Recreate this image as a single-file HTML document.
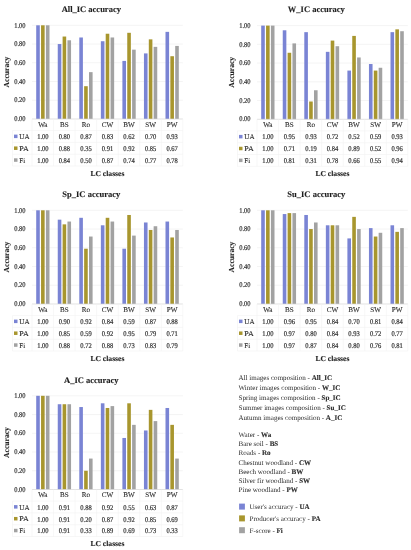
<!DOCTYPE html>
<html><head><meta charset="utf-8"><style>
html,body{margin:0;padding:0;background:#fff;}
body{width:411px;height:550px;overflow:hidden;}
svg{display:block;filter:blur(0.3px);}
text{font-family:"Liberation Serif",serif;fill:#404040;text-rendering:geometricPrecision;}
.n{font-size:7.3px;fill:#2a2a2a;stroke:#2a2a2a;stroke-width:0.18px;}
.c{font-size:7.1px;fill:#2a2a2a;stroke:#2a2a2a;stroke-width:0.1px;}
.b{font-size:7.6px;font-weight:bold;fill:#222;stroke:#222;stroke-width:0.12px;}
.t{font-size:8.5px;font-weight:bold;fill:#1e1e1e;stroke:#1e1e1e;stroke-width:0.12px;}
.l{font-size:7.05px;fill:#2e2e2e;}
.l tspan{stroke:#222;stroke-width:0.12px;}
</style></head><body>
<svg width="411" height="550" viewBox="0 0 411 550">
<rect width="411" height="550" fill="#fff"/>
<g transform="translate(0,0)">
<line x1="32.0" y1="100.26" x2="182.85" y2="100.26" stroke="#ededed" stroke-width="0.6"/>
<line x1="32.0" y1="81.52" x2="182.85" y2="81.52" stroke="#ededed" stroke-width="0.6"/>
<line x1="32.0" y1="62.78" x2="182.85" y2="62.78" stroke="#ededed" stroke-width="0.6"/>
<line x1="32.0" y1="44.04" x2="182.85" y2="44.04" stroke="#ededed" stroke-width="0.6"/>
<line x1="32.0" y1="25.30" x2="182.85" y2="25.30" stroke="#ededed" stroke-width="0.6"/>
<text x="14.2" y="121.20" textLength="11.3" lengthAdjust="spacingAndGlyphs" class="n">0.00</text>
<text x="14.2" y="102.46" textLength="11.3" lengthAdjust="spacingAndGlyphs" class="n">0.20</text>
<text x="14.2" y="83.72" textLength="11.3" lengthAdjust="spacingAndGlyphs" class="n">0.40</text>
<text x="14.2" y="64.98" textLength="11.3" lengthAdjust="spacingAndGlyphs" class="n">0.60</text>
<text x="14.2" y="46.24" textLength="11.3" lengthAdjust="spacingAndGlyphs" class="n">0.80</text>
<text x="14.2" y="27.50" textLength="11.3" lengthAdjust="spacingAndGlyphs" class="n">1.00</text>
<rect x="36.20" y="25.30" width="3.6" height="93.70" fill="#7a84d4"/>
<rect x="41.05" y="25.30" width="3.6" height="93.70" fill="#a8962e"/>
<rect x="45.90" y="25.30" width="3.6" height="93.70" fill="#a2a2a2"/>
<rect x="57.75" y="44.04" width="3.6" height="74.96" fill="#7a84d4"/>
<rect x="62.60" y="36.54" width="3.6" height="82.46" fill="#a8962e"/>
<rect x="67.45" y="40.29" width="3.6" height="78.71" fill="#a2a2a2"/>
<rect x="79.30" y="37.48" width="3.6" height="81.52" fill="#7a84d4"/>
<rect x="84.15" y="86.20" width="3.6" height="32.80" fill="#a8962e"/>
<rect x="89.00" y="72.15" width="3.6" height="46.85" fill="#a2a2a2"/>
<rect x="100.85" y="41.23" width="3.6" height="77.77" fill="#7a84d4"/>
<rect x="105.70" y="33.73" width="3.6" height="85.27" fill="#a8962e"/>
<rect x="110.55" y="37.48" width="3.6" height="81.52" fill="#a2a2a2"/>
<rect x="122.40" y="60.91" width="3.6" height="58.09" fill="#7a84d4"/>
<rect x="127.25" y="32.80" width="3.6" height="86.20" fill="#a8962e"/>
<rect x="132.10" y="49.66" width="3.6" height="69.34" fill="#a2a2a2"/>
<rect x="143.95" y="53.41" width="3.6" height="65.59" fill="#7a84d4"/>
<rect x="148.80" y="39.36" width="3.6" height="79.64" fill="#a8962e"/>
<rect x="153.65" y="46.85" width="3.6" height="72.15" fill="#a2a2a2"/>
<rect x="165.50" y="31.86" width="3.6" height="87.14" fill="#7a84d4"/>
<rect x="170.35" y="56.22" width="3.6" height="62.78" fill="#a8962e"/>
<rect x="175.20" y="45.91" width="3.6" height="73.09" fill="#a2a2a2"/>
<line x1="32.0" y1="119.0" x2="182.85" y2="119.0" stroke="#d6d6d6" stroke-width="0.7"/>
<line x1="32.00" y1="119.0" x2="32.00" y2="166" stroke="#f1f1f1" stroke-width="0.6"/>
<line x1="53.55" y1="119.0" x2="53.55" y2="166" stroke="#f1f1f1" stroke-width="0.6"/>
<line x1="75.10" y1="119.0" x2="75.10" y2="166" stroke="#f1f1f1" stroke-width="0.6"/>
<line x1="96.65" y1="119.0" x2="96.65" y2="166" stroke="#f1f1f1" stroke-width="0.6"/>
<line x1="118.20" y1="119.0" x2="118.20" y2="166" stroke="#f1f1f1" stroke-width="0.6"/>
<line x1="139.75" y1="119.0" x2="139.75" y2="166" stroke="#f1f1f1" stroke-width="0.6"/>
<line x1="161.30" y1="119.0" x2="161.30" y2="166" stroke="#f1f1f1" stroke-width="0.6"/>
<line x1="182.85" y1="119.0" x2="182.85" y2="166" stroke="#f1f1f1" stroke-width="0.6"/>
<line x1="12.5" y1="130.6" x2="182.85" y2="130.6" stroke="#f1f1f1" stroke-width="0.6"/>
<line x1="12.5" y1="142.4" x2="182.85" y2="142.4" stroke="#f1f1f1" stroke-width="0.6"/>
<line x1="12.5" y1="154.2" x2="182.85" y2="154.2" stroke="#f1f1f1" stroke-width="0.6"/>
<line x1="12.5" y1="166" x2="182.85" y2="166" stroke="#f1f1f1" stroke-width="0.6"/>
<line x1="12.5" y1="130.6" x2="12.5" y2="166" stroke="#f1f1f1" stroke-width="0.6"/>
<text x="42.85" y="126.8" text-anchor="middle" class="c">Wa</text>
<text x="64.40" y="126.8" text-anchor="middle" class="c">BS</text>
<text x="85.95" y="126.8" text-anchor="middle" class="c">Ro</text>
<text x="107.50" y="126.8" text-anchor="middle" class="c">CW</text>
<text x="129.05" y="126.8" text-anchor="middle" class="c">BW</text>
<text x="150.60" y="126.8" text-anchor="middle" class="c">SW</text>
<text x="172.15" y="126.8" text-anchor="middle" class="c">PW</text>
<rect x="14" y="134.60" width="3.5" height="3.5" fill="#7a84d4"/>
<text x="19.3" y="139.00" textLength="10.3" lengthAdjust="spacingAndGlyphs" class="c">UA</text>
<text x="37.15" y="139.20" textLength="11.4" lengthAdjust="spacingAndGlyphs" class="n">1.00</text>
<text x="58.70" y="139.20" textLength="11.4" lengthAdjust="spacingAndGlyphs" class="n">0.80</text>
<text x="80.25" y="139.20" textLength="11.4" lengthAdjust="spacingAndGlyphs" class="n">0.87</text>
<text x="101.80" y="139.20" textLength="11.4" lengthAdjust="spacingAndGlyphs" class="n">0.83</text>
<text x="123.35" y="139.20" textLength="11.4" lengthAdjust="spacingAndGlyphs" class="n">0.62</text>
<text x="144.90" y="139.20" textLength="11.4" lengthAdjust="spacingAndGlyphs" class="n">0.70</text>
<text x="166.45" y="139.20" textLength="11.4" lengthAdjust="spacingAndGlyphs" class="n">0.93</text>
<rect x="14" y="146.45" width="3.5" height="3.5" fill="#a8962e"/>
<text x="19.3" y="150.85" textLength="9.6" lengthAdjust="spacingAndGlyphs" class="c">PA</text>
<text x="37.15" y="151.05" textLength="11.4" lengthAdjust="spacingAndGlyphs" class="n">1.00</text>
<text x="58.70" y="151.05" textLength="11.4" lengthAdjust="spacingAndGlyphs" class="n">0.88</text>
<text x="80.25" y="151.05" textLength="11.4" lengthAdjust="spacingAndGlyphs" class="n">0.35</text>
<text x="101.80" y="151.05" textLength="11.4" lengthAdjust="spacingAndGlyphs" class="n">0.91</text>
<text x="123.35" y="151.05" textLength="11.4" lengthAdjust="spacingAndGlyphs" class="n">0.92</text>
<text x="144.90" y="151.05" textLength="11.4" lengthAdjust="spacingAndGlyphs" class="n">0.85</text>
<text x="166.45" y="151.05" textLength="11.4" lengthAdjust="spacingAndGlyphs" class="n">0.67</text>
<rect x="14" y="158.30" width="3.5" height="3.5" fill="#a2a2a2"/>
<text x="19.3" y="162.70" textLength="5.8" lengthAdjust="spacingAndGlyphs" class="c">Fi</text>
<text x="37.15" y="162.90" textLength="11.4" lengthAdjust="spacingAndGlyphs" class="n">1.00</text>
<text x="58.70" y="162.90" textLength="11.4" lengthAdjust="spacingAndGlyphs" class="n">0.84</text>
<text x="80.25" y="162.90" textLength="11.4" lengthAdjust="spacingAndGlyphs" class="n">0.50</text>
<text x="101.80" y="162.90" textLength="11.4" lengthAdjust="spacingAndGlyphs" class="n">0.87</text>
<text x="123.35" y="162.90" textLength="11.4" lengthAdjust="spacingAndGlyphs" class="n">0.74</text>
<text x="144.90" y="162.90" textLength="11.4" lengthAdjust="spacingAndGlyphs" class="n">0.77</text>
<text x="166.45" y="162.90" textLength="11.4" lengthAdjust="spacingAndGlyphs" class="n">0.78</text>
<text x="107.42" y="175.5" text-anchor="middle" class="b">LC classes</text>
<text transform="translate(9.4,72) rotate(-90)" x="0" y="0" text-anchor="middle" class="b">Accuracy</text>
<text x="91.3" y="12.2" text-anchor="middle" class="t">All_IC accuracy</text>
</g>
<g transform="translate(225.0,0.3)">
<line x1="32.0" y1="100.26" x2="182.85" y2="100.26" stroke="#ededed" stroke-width="0.6"/>
<line x1="32.0" y1="81.52" x2="182.85" y2="81.52" stroke="#ededed" stroke-width="0.6"/>
<line x1="32.0" y1="62.78" x2="182.85" y2="62.78" stroke="#ededed" stroke-width="0.6"/>
<line x1="32.0" y1="44.04" x2="182.85" y2="44.04" stroke="#ededed" stroke-width="0.6"/>
<line x1="32.0" y1="25.30" x2="182.85" y2="25.30" stroke="#ededed" stroke-width="0.6"/>
<text x="14.2" y="121.20" textLength="11.3" lengthAdjust="spacingAndGlyphs" class="n">0.00</text>
<text x="14.2" y="102.46" textLength="11.3" lengthAdjust="spacingAndGlyphs" class="n">0.20</text>
<text x="14.2" y="83.72" textLength="11.3" lengthAdjust="spacingAndGlyphs" class="n">0.40</text>
<text x="14.2" y="64.98" textLength="11.3" lengthAdjust="spacingAndGlyphs" class="n">0.60</text>
<text x="14.2" y="46.24" textLength="11.3" lengthAdjust="spacingAndGlyphs" class="n">0.80</text>
<text x="14.2" y="27.50" textLength="11.3" lengthAdjust="spacingAndGlyphs" class="n">1.00</text>
<rect x="36.20" y="25.30" width="3.6" height="93.70" fill="#7a84d4"/>
<rect x="41.05" y="25.30" width="3.6" height="93.70" fill="#a8962e"/>
<rect x="45.90" y="25.30" width="3.6" height="93.70" fill="#a2a2a2"/>
<rect x="57.75" y="29.98" width="3.6" height="89.02" fill="#7a84d4"/>
<rect x="62.60" y="52.47" width="3.6" height="66.53" fill="#a8962e"/>
<rect x="67.45" y="43.10" width="3.6" height="75.90" fill="#a2a2a2"/>
<rect x="79.30" y="31.86" width="3.6" height="87.14" fill="#7a84d4"/>
<rect x="84.15" y="101.20" width="3.6" height="17.80" fill="#a8962e"/>
<rect x="89.00" y="89.95" width="3.6" height="29.05" fill="#a2a2a2"/>
<rect x="100.85" y="51.54" width="3.6" height="67.46" fill="#7a84d4"/>
<rect x="105.70" y="40.29" width="3.6" height="78.71" fill="#a8962e"/>
<rect x="110.55" y="45.91" width="3.6" height="73.09" fill="#a2a2a2"/>
<rect x="122.40" y="70.28" width="3.6" height="48.72" fill="#7a84d4"/>
<rect x="127.25" y="35.61" width="3.6" height="83.39" fill="#a8962e"/>
<rect x="132.10" y="57.16" width="3.6" height="61.84" fill="#a2a2a2"/>
<rect x="143.95" y="63.72" width="3.6" height="55.28" fill="#7a84d4"/>
<rect x="148.80" y="70.28" width="3.6" height="48.72" fill="#a8962e"/>
<rect x="153.65" y="67.47" width="3.6" height="51.54" fill="#a2a2a2"/>
<rect x="165.50" y="31.86" width="3.6" height="87.14" fill="#7a84d4"/>
<rect x="170.35" y="29.05" width="3.6" height="89.95" fill="#a8962e"/>
<rect x="175.20" y="30.92" width="3.6" height="88.08" fill="#a2a2a2"/>
<line x1="32.0" y1="119.0" x2="182.85" y2="119.0" stroke="#d6d6d6" stroke-width="0.7"/>
<line x1="32.00" y1="119.0" x2="32.00" y2="166" stroke="#f1f1f1" stroke-width="0.6"/>
<line x1="53.55" y1="119.0" x2="53.55" y2="166" stroke="#f1f1f1" stroke-width="0.6"/>
<line x1="75.10" y1="119.0" x2="75.10" y2="166" stroke="#f1f1f1" stroke-width="0.6"/>
<line x1="96.65" y1="119.0" x2="96.65" y2="166" stroke="#f1f1f1" stroke-width="0.6"/>
<line x1="118.20" y1="119.0" x2="118.20" y2="166" stroke="#f1f1f1" stroke-width="0.6"/>
<line x1="139.75" y1="119.0" x2="139.75" y2="166" stroke="#f1f1f1" stroke-width="0.6"/>
<line x1="161.30" y1="119.0" x2="161.30" y2="166" stroke="#f1f1f1" stroke-width="0.6"/>
<line x1="182.85" y1="119.0" x2="182.85" y2="166" stroke="#f1f1f1" stroke-width="0.6"/>
<line x1="12.5" y1="130.6" x2="182.85" y2="130.6" stroke="#f1f1f1" stroke-width="0.6"/>
<line x1="12.5" y1="142.4" x2="182.85" y2="142.4" stroke="#f1f1f1" stroke-width="0.6"/>
<line x1="12.5" y1="154.2" x2="182.85" y2="154.2" stroke="#f1f1f1" stroke-width="0.6"/>
<line x1="12.5" y1="166" x2="182.85" y2="166" stroke="#f1f1f1" stroke-width="0.6"/>
<line x1="12.5" y1="130.6" x2="12.5" y2="166" stroke="#f1f1f1" stroke-width="0.6"/>
<text x="42.85" y="126.8" text-anchor="middle" class="c">Wa</text>
<text x="64.40" y="126.8" text-anchor="middle" class="c">BS</text>
<text x="85.95" y="126.8" text-anchor="middle" class="c">Ro</text>
<text x="107.50" y="126.8" text-anchor="middle" class="c">CW</text>
<text x="129.05" y="126.8" text-anchor="middle" class="c">BW</text>
<text x="150.60" y="126.8" text-anchor="middle" class="c">SW</text>
<text x="172.15" y="126.8" text-anchor="middle" class="c">PW</text>
<rect x="14" y="134.60" width="3.5" height="3.5" fill="#7a84d4"/>
<text x="19.3" y="139.00" textLength="10.3" lengthAdjust="spacingAndGlyphs" class="c">UA</text>
<text x="37.15" y="139.20" textLength="11.4" lengthAdjust="spacingAndGlyphs" class="n">1.00</text>
<text x="58.70" y="139.20" textLength="11.4" lengthAdjust="spacingAndGlyphs" class="n">0.95</text>
<text x="80.25" y="139.20" textLength="11.4" lengthAdjust="spacingAndGlyphs" class="n">0.93</text>
<text x="101.80" y="139.20" textLength="11.4" lengthAdjust="spacingAndGlyphs" class="n">0.72</text>
<text x="123.35" y="139.20" textLength="11.4" lengthAdjust="spacingAndGlyphs" class="n">0.52</text>
<text x="144.90" y="139.20" textLength="11.4" lengthAdjust="spacingAndGlyphs" class="n">0.59</text>
<text x="166.45" y="139.20" textLength="11.4" lengthAdjust="spacingAndGlyphs" class="n">0.93</text>
<rect x="14" y="146.45" width="3.5" height="3.5" fill="#a8962e"/>
<text x="19.3" y="150.85" textLength="9.6" lengthAdjust="spacingAndGlyphs" class="c">PA</text>
<text x="37.15" y="151.05" textLength="11.4" lengthAdjust="spacingAndGlyphs" class="n">1.00</text>
<text x="58.70" y="151.05" textLength="11.4" lengthAdjust="spacingAndGlyphs" class="n">0.71</text>
<text x="80.25" y="151.05" textLength="11.4" lengthAdjust="spacingAndGlyphs" class="n">0.19</text>
<text x="101.80" y="151.05" textLength="11.4" lengthAdjust="spacingAndGlyphs" class="n">0.84</text>
<text x="123.35" y="151.05" textLength="11.4" lengthAdjust="spacingAndGlyphs" class="n">0.89</text>
<text x="144.90" y="151.05" textLength="11.4" lengthAdjust="spacingAndGlyphs" class="n">0.52</text>
<text x="166.45" y="151.05" textLength="11.4" lengthAdjust="spacingAndGlyphs" class="n">0.96</text>
<rect x="14" y="158.30" width="3.5" height="3.5" fill="#a2a2a2"/>
<text x="19.3" y="162.70" textLength="5.8" lengthAdjust="spacingAndGlyphs" class="c">Fi</text>
<text x="37.15" y="162.90" textLength="11.4" lengthAdjust="spacingAndGlyphs" class="n">1.00</text>
<text x="58.70" y="162.90" textLength="11.4" lengthAdjust="spacingAndGlyphs" class="n">0.81</text>
<text x="80.25" y="162.90" textLength="11.4" lengthAdjust="spacingAndGlyphs" class="n">0.31</text>
<text x="101.80" y="162.90" textLength="11.4" lengthAdjust="spacingAndGlyphs" class="n">0.78</text>
<text x="123.35" y="162.90" textLength="11.4" lengthAdjust="spacingAndGlyphs" class="n">0.66</text>
<text x="144.90" y="162.90" textLength="11.4" lengthAdjust="spacingAndGlyphs" class="n">0.55</text>
<text x="166.45" y="162.90" textLength="11.4" lengthAdjust="spacingAndGlyphs" class="n">0.94</text>
<text x="107.42" y="175.5" text-anchor="middle" class="b">LC classes</text>
<text transform="translate(9.4,72) rotate(-90)" x="0" y="0" text-anchor="middle" class="b">Accuracy</text>
<text x="91.3" y="12.2" text-anchor="middle" class="t">W_IC accuracy</text>
</g>
<g transform="translate(0,185.0)">
<line x1="32.0" y1="100.26" x2="182.85" y2="100.26" stroke="#ededed" stroke-width="0.6"/>
<line x1="32.0" y1="81.52" x2="182.85" y2="81.52" stroke="#ededed" stroke-width="0.6"/>
<line x1="32.0" y1="62.78" x2="182.85" y2="62.78" stroke="#ededed" stroke-width="0.6"/>
<line x1="32.0" y1="44.04" x2="182.85" y2="44.04" stroke="#ededed" stroke-width="0.6"/>
<line x1="32.0" y1="25.30" x2="182.85" y2="25.30" stroke="#ededed" stroke-width="0.6"/>
<text x="14.2" y="121.20" textLength="11.3" lengthAdjust="spacingAndGlyphs" class="n">0.00</text>
<text x="14.2" y="102.46" textLength="11.3" lengthAdjust="spacingAndGlyphs" class="n">0.20</text>
<text x="14.2" y="83.72" textLength="11.3" lengthAdjust="spacingAndGlyphs" class="n">0.40</text>
<text x="14.2" y="64.98" textLength="11.3" lengthAdjust="spacingAndGlyphs" class="n">0.60</text>
<text x="14.2" y="46.24" textLength="11.3" lengthAdjust="spacingAndGlyphs" class="n">0.80</text>
<text x="14.2" y="27.50" textLength="11.3" lengthAdjust="spacingAndGlyphs" class="n">1.00</text>
<rect x="36.20" y="25.30" width="3.6" height="93.70" fill="#7a84d4"/>
<rect x="41.05" y="25.30" width="3.6" height="93.70" fill="#a8962e"/>
<rect x="45.90" y="25.30" width="3.6" height="93.70" fill="#a2a2a2"/>
<rect x="57.75" y="34.67" width="3.6" height="84.33" fill="#7a84d4"/>
<rect x="62.60" y="39.36" width="3.6" height="79.64" fill="#a8962e"/>
<rect x="67.45" y="36.54" width="3.6" height="82.46" fill="#a2a2a2"/>
<rect x="79.30" y="32.80" width="3.6" height="86.20" fill="#7a84d4"/>
<rect x="84.15" y="63.72" width="3.6" height="55.28" fill="#a8962e"/>
<rect x="89.00" y="51.54" width="3.6" height="67.46" fill="#a2a2a2"/>
<rect x="100.85" y="40.29" width="3.6" height="78.71" fill="#7a84d4"/>
<rect x="105.70" y="32.80" width="3.6" height="86.20" fill="#a8962e"/>
<rect x="110.55" y="36.54" width="3.6" height="82.46" fill="#a2a2a2"/>
<rect x="122.40" y="63.72" width="3.6" height="55.28" fill="#7a84d4"/>
<rect x="127.25" y="29.98" width="3.6" height="89.02" fill="#a8962e"/>
<rect x="132.10" y="50.60" width="3.6" height="68.40" fill="#a2a2a2"/>
<rect x="143.95" y="37.48" width="3.6" height="81.52" fill="#7a84d4"/>
<rect x="148.80" y="44.98" width="3.6" height="74.02" fill="#a8962e"/>
<rect x="153.65" y="41.23" width="3.6" height="77.77" fill="#a2a2a2"/>
<rect x="165.50" y="36.54" width="3.6" height="82.46" fill="#7a84d4"/>
<rect x="170.35" y="52.47" width="3.6" height="66.53" fill="#a8962e"/>
<rect x="175.20" y="44.98" width="3.6" height="74.02" fill="#a2a2a2"/>
<line x1="32.0" y1="119.0" x2="182.85" y2="119.0" stroke="#d6d6d6" stroke-width="0.7"/>
<line x1="32.00" y1="119.0" x2="32.00" y2="166" stroke="#f1f1f1" stroke-width="0.6"/>
<line x1="53.55" y1="119.0" x2="53.55" y2="166" stroke="#f1f1f1" stroke-width="0.6"/>
<line x1="75.10" y1="119.0" x2="75.10" y2="166" stroke="#f1f1f1" stroke-width="0.6"/>
<line x1="96.65" y1="119.0" x2="96.65" y2="166" stroke="#f1f1f1" stroke-width="0.6"/>
<line x1="118.20" y1="119.0" x2="118.20" y2="166" stroke="#f1f1f1" stroke-width="0.6"/>
<line x1="139.75" y1="119.0" x2="139.75" y2="166" stroke="#f1f1f1" stroke-width="0.6"/>
<line x1="161.30" y1="119.0" x2="161.30" y2="166" stroke="#f1f1f1" stroke-width="0.6"/>
<line x1="182.85" y1="119.0" x2="182.85" y2="166" stroke="#f1f1f1" stroke-width="0.6"/>
<line x1="12.5" y1="130.6" x2="182.85" y2="130.6" stroke="#f1f1f1" stroke-width="0.6"/>
<line x1="12.5" y1="142.4" x2="182.85" y2="142.4" stroke="#f1f1f1" stroke-width="0.6"/>
<line x1="12.5" y1="154.2" x2="182.85" y2="154.2" stroke="#f1f1f1" stroke-width="0.6"/>
<line x1="12.5" y1="166" x2="182.85" y2="166" stroke="#f1f1f1" stroke-width="0.6"/>
<line x1="12.5" y1="130.6" x2="12.5" y2="166" stroke="#f1f1f1" stroke-width="0.6"/>
<text x="42.85" y="126.8" text-anchor="middle" class="c">Wa</text>
<text x="64.40" y="126.8" text-anchor="middle" class="c">BS</text>
<text x="85.95" y="126.8" text-anchor="middle" class="c">Ro</text>
<text x="107.50" y="126.8" text-anchor="middle" class="c">CW</text>
<text x="129.05" y="126.8" text-anchor="middle" class="c">BW</text>
<text x="150.60" y="126.8" text-anchor="middle" class="c">SW</text>
<text x="172.15" y="126.8" text-anchor="middle" class="c">PW</text>
<rect x="14" y="134.60" width="3.5" height="3.5" fill="#7a84d4"/>
<text x="19.3" y="139.00" textLength="10.3" lengthAdjust="spacingAndGlyphs" class="c">UA</text>
<text x="37.15" y="139.20" textLength="11.4" lengthAdjust="spacingAndGlyphs" class="n">1.00</text>
<text x="58.70" y="139.20" textLength="11.4" lengthAdjust="spacingAndGlyphs" class="n">0.90</text>
<text x="80.25" y="139.20" textLength="11.4" lengthAdjust="spacingAndGlyphs" class="n">0.92</text>
<text x="101.80" y="139.20" textLength="11.4" lengthAdjust="spacingAndGlyphs" class="n">0.84</text>
<text x="123.35" y="139.20" textLength="11.4" lengthAdjust="spacingAndGlyphs" class="n">0.59</text>
<text x="144.90" y="139.20" textLength="11.4" lengthAdjust="spacingAndGlyphs" class="n">0.87</text>
<text x="166.45" y="139.20" textLength="11.4" lengthAdjust="spacingAndGlyphs" class="n">0.88</text>
<rect x="14" y="146.45" width="3.5" height="3.5" fill="#a8962e"/>
<text x="19.3" y="150.85" textLength="9.6" lengthAdjust="spacingAndGlyphs" class="c">PA</text>
<text x="37.15" y="151.05" textLength="11.4" lengthAdjust="spacingAndGlyphs" class="n">1.00</text>
<text x="58.70" y="151.05" textLength="11.4" lengthAdjust="spacingAndGlyphs" class="n">0.85</text>
<text x="80.25" y="151.05" textLength="11.4" lengthAdjust="spacingAndGlyphs" class="n">0.59</text>
<text x="101.80" y="151.05" textLength="11.4" lengthAdjust="spacingAndGlyphs" class="n">0.92</text>
<text x="123.35" y="151.05" textLength="11.4" lengthAdjust="spacingAndGlyphs" class="n">0.95</text>
<text x="144.90" y="151.05" textLength="11.4" lengthAdjust="spacingAndGlyphs" class="n">0.79</text>
<text x="166.45" y="151.05" textLength="11.4" lengthAdjust="spacingAndGlyphs" class="n">0.71</text>
<rect x="14" y="158.30" width="3.5" height="3.5" fill="#a2a2a2"/>
<text x="19.3" y="162.70" textLength="5.8" lengthAdjust="spacingAndGlyphs" class="c">Fi</text>
<text x="37.15" y="162.90" textLength="11.4" lengthAdjust="spacingAndGlyphs" class="n">1.00</text>
<text x="58.70" y="162.90" textLength="11.4" lengthAdjust="spacingAndGlyphs" class="n">0.88</text>
<text x="80.25" y="162.90" textLength="11.4" lengthAdjust="spacingAndGlyphs" class="n">0.72</text>
<text x="101.80" y="162.90" textLength="11.4" lengthAdjust="spacingAndGlyphs" class="n">0.88</text>
<text x="123.35" y="162.90" textLength="11.4" lengthAdjust="spacingAndGlyphs" class="n">0.73</text>
<text x="144.90" y="162.90" textLength="11.4" lengthAdjust="spacingAndGlyphs" class="n">0.83</text>
<text x="166.45" y="162.90" textLength="11.4" lengthAdjust="spacingAndGlyphs" class="n">0.79</text>
<text x="107.42" y="175.5" text-anchor="middle" class="b">LC classes</text>
<text transform="translate(9.4,72) rotate(-90)" x="0" y="0" text-anchor="middle" class="b">Accuracy</text>
<text x="91.3" y="12.2" text-anchor="middle" class="t">Sp_IC accuracy</text>
</g>
<g transform="translate(225.0,185.0)">
<line x1="32.0" y1="100.26" x2="182.85" y2="100.26" stroke="#ededed" stroke-width="0.6"/>
<line x1="32.0" y1="81.52" x2="182.85" y2="81.52" stroke="#ededed" stroke-width="0.6"/>
<line x1="32.0" y1="62.78" x2="182.85" y2="62.78" stroke="#ededed" stroke-width="0.6"/>
<line x1="32.0" y1="44.04" x2="182.85" y2="44.04" stroke="#ededed" stroke-width="0.6"/>
<line x1="32.0" y1="25.30" x2="182.85" y2="25.30" stroke="#ededed" stroke-width="0.6"/>
<text x="14.2" y="121.20" textLength="11.3" lengthAdjust="spacingAndGlyphs" class="n">0.00</text>
<text x="14.2" y="102.46" textLength="11.3" lengthAdjust="spacingAndGlyphs" class="n">0.20</text>
<text x="14.2" y="83.72" textLength="11.3" lengthAdjust="spacingAndGlyphs" class="n">0.40</text>
<text x="14.2" y="64.98" textLength="11.3" lengthAdjust="spacingAndGlyphs" class="n">0.60</text>
<text x="14.2" y="46.24" textLength="11.3" lengthAdjust="spacingAndGlyphs" class="n">0.80</text>
<text x="14.2" y="27.50" textLength="11.3" lengthAdjust="spacingAndGlyphs" class="n">1.00</text>
<rect x="36.20" y="25.30" width="3.6" height="93.70" fill="#7a84d4"/>
<rect x="41.05" y="25.30" width="3.6" height="93.70" fill="#a8962e"/>
<rect x="45.90" y="25.30" width="3.6" height="93.70" fill="#a2a2a2"/>
<rect x="57.75" y="29.05" width="3.6" height="89.95" fill="#7a84d4"/>
<rect x="62.60" y="28.11" width="3.6" height="90.89" fill="#a8962e"/>
<rect x="67.45" y="28.11" width="3.6" height="90.89" fill="#a2a2a2"/>
<rect x="79.30" y="29.98" width="3.6" height="89.02" fill="#7a84d4"/>
<rect x="84.15" y="44.04" width="3.6" height="74.96" fill="#a8962e"/>
<rect x="89.00" y="37.48" width="3.6" height="81.52" fill="#a2a2a2"/>
<rect x="100.85" y="40.29" width="3.6" height="78.71" fill="#7a84d4"/>
<rect x="105.70" y="40.29" width="3.6" height="78.71" fill="#a8962e"/>
<rect x="110.55" y="40.29" width="3.6" height="78.71" fill="#a2a2a2"/>
<rect x="122.40" y="53.41" width="3.6" height="65.59" fill="#7a84d4"/>
<rect x="127.25" y="31.86" width="3.6" height="87.14" fill="#a8962e"/>
<rect x="132.10" y="44.04" width="3.6" height="74.96" fill="#a2a2a2"/>
<rect x="143.95" y="43.10" width="3.6" height="75.90" fill="#7a84d4"/>
<rect x="148.80" y="51.54" width="3.6" height="67.46" fill="#a8962e"/>
<rect x="153.65" y="47.79" width="3.6" height="71.21" fill="#a2a2a2"/>
<rect x="165.50" y="40.29" width="3.6" height="78.71" fill="#7a84d4"/>
<rect x="170.35" y="46.85" width="3.6" height="72.15" fill="#a8962e"/>
<rect x="175.20" y="43.10" width="3.6" height="75.90" fill="#a2a2a2"/>
<line x1="32.0" y1="119.0" x2="182.85" y2="119.0" stroke="#d6d6d6" stroke-width="0.7"/>
<line x1="32.00" y1="119.0" x2="32.00" y2="166" stroke="#f1f1f1" stroke-width="0.6"/>
<line x1="53.55" y1="119.0" x2="53.55" y2="166" stroke="#f1f1f1" stroke-width="0.6"/>
<line x1="75.10" y1="119.0" x2="75.10" y2="166" stroke="#f1f1f1" stroke-width="0.6"/>
<line x1="96.65" y1="119.0" x2="96.65" y2="166" stroke="#f1f1f1" stroke-width="0.6"/>
<line x1="118.20" y1="119.0" x2="118.20" y2="166" stroke="#f1f1f1" stroke-width="0.6"/>
<line x1="139.75" y1="119.0" x2="139.75" y2="166" stroke="#f1f1f1" stroke-width="0.6"/>
<line x1="161.30" y1="119.0" x2="161.30" y2="166" stroke="#f1f1f1" stroke-width="0.6"/>
<line x1="182.85" y1="119.0" x2="182.85" y2="166" stroke="#f1f1f1" stroke-width="0.6"/>
<line x1="12.5" y1="130.6" x2="182.85" y2="130.6" stroke="#f1f1f1" stroke-width="0.6"/>
<line x1="12.5" y1="142.4" x2="182.85" y2="142.4" stroke="#f1f1f1" stroke-width="0.6"/>
<line x1="12.5" y1="154.2" x2="182.85" y2="154.2" stroke="#f1f1f1" stroke-width="0.6"/>
<line x1="12.5" y1="166" x2="182.85" y2="166" stroke="#f1f1f1" stroke-width="0.6"/>
<line x1="12.5" y1="130.6" x2="12.5" y2="166" stroke="#f1f1f1" stroke-width="0.6"/>
<text x="42.85" y="126.8" text-anchor="middle" class="c">Wa</text>
<text x="64.40" y="126.8" text-anchor="middle" class="c">BS</text>
<text x="85.95" y="126.8" text-anchor="middle" class="c">Ro</text>
<text x="107.50" y="126.8" text-anchor="middle" class="c">CW</text>
<text x="129.05" y="126.8" text-anchor="middle" class="c">BW</text>
<text x="150.60" y="126.8" text-anchor="middle" class="c">SW</text>
<text x="172.15" y="126.8" text-anchor="middle" class="c">PW</text>
<rect x="14" y="134.60" width="3.5" height="3.5" fill="#7a84d4"/>
<text x="19.3" y="139.00" textLength="10.3" lengthAdjust="spacingAndGlyphs" class="c">UA</text>
<text x="37.15" y="139.20" textLength="11.4" lengthAdjust="spacingAndGlyphs" class="n">1.00</text>
<text x="58.70" y="139.20" textLength="11.4" lengthAdjust="spacingAndGlyphs" class="n">0.96</text>
<text x="80.25" y="139.20" textLength="11.4" lengthAdjust="spacingAndGlyphs" class="n">0.95</text>
<text x="101.80" y="139.20" textLength="11.4" lengthAdjust="spacingAndGlyphs" class="n">0.84</text>
<text x="123.35" y="139.20" textLength="11.4" lengthAdjust="spacingAndGlyphs" class="n">0.70</text>
<text x="144.90" y="139.20" textLength="11.4" lengthAdjust="spacingAndGlyphs" class="n">0.81</text>
<text x="166.45" y="139.20" textLength="11.4" lengthAdjust="spacingAndGlyphs" class="n">0.84</text>
<rect x="14" y="146.45" width="3.5" height="3.5" fill="#a8962e"/>
<text x="19.3" y="150.85" textLength="9.6" lengthAdjust="spacingAndGlyphs" class="c">PA</text>
<text x="37.15" y="151.05" textLength="11.4" lengthAdjust="spacingAndGlyphs" class="n">1.00</text>
<text x="58.70" y="151.05" textLength="11.4" lengthAdjust="spacingAndGlyphs" class="n">0.97</text>
<text x="80.25" y="151.05" textLength="11.4" lengthAdjust="spacingAndGlyphs" class="n">0.80</text>
<text x="101.80" y="151.05" textLength="11.4" lengthAdjust="spacingAndGlyphs" class="n">0.84</text>
<text x="123.35" y="151.05" textLength="11.4" lengthAdjust="spacingAndGlyphs" class="n">0.93</text>
<text x="144.90" y="151.05" textLength="11.4" lengthAdjust="spacingAndGlyphs" class="n">0.72</text>
<text x="166.45" y="151.05" textLength="11.4" lengthAdjust="spacingAndGlyphs" class="n">0.77</text>
<rect x="14" y="158.30" width="3.5" height="3.5" fill="#a2a2a2"/>
<text x="19.3" y="162.70" textLength="5.8" lengthAdjust="spacingAndGlyphs" class="c">Fi</text>
<text x="37.15" y="162.90" textLength="11.4" lengthAdjust="spacingAndGlyphs" class="n">1.00</text>
<text x="58.70" y="162.90" textLength="11.4" lengthAdjust="spacingAndGlyphs" class="n">0.97</text>
<text x="80.25" y="162.90" textLength="11.4" lengthAdjust="spacingAndGlyphs" class="n">0.87</text>
<text x="101.80" y="162.90" textLength="11.4" lengthAdjust="spacingAndGlyphs" class="n">0.84</text>
<text x="123.35" y="162.90" textLength="11.4" lengthAdjust="spacingAndGlyphs" class="n">0.80</text>
<text x="144.90" y="162.90" textLength="11.4" lengthAdjust="spacingAndGlyphs" class="n">0.76</text>
<text x="166.45" y="162.90" textLength="11.4" lengthAdjust="spacingAndGlyphs" class="n">0.81</text>
<text x="107.42" y="175.5" text-anchor="middle" class="b">LC classes</text>
<text transform="translate(9.4,72) rotate(-90)" x="0" y="0" text-anchor="middle" class="b">Accuracy</text>
<text x="91.3" y="12.2" text-anchor="middle" class="t">Su_IC accuracy</text>
</g>
<g transform="translate(0,370.5)">
<line x1="32.0" y1="100.26" x2="182.85" y2="100.26" stroke="#ededed" stroke-width="0.6"/>
<line x1="32.0" y1="81.52" x2="182.85" y2="81.52" stroke="#ededed" stroke-width="0.6"/>
<line x1="32.0" y1="62.78" x2="182.85" y2="62.78" stroke="#ededed" stroke-width="0.6"/>
<line x1="32.0" y1="44.04" x2="182.85" y2="44.04" stroke="#ededed" stroke-width="0.6"/>
<line x1="32.0" y1="25.30" x2="182.85" y2="25.30" stroke="#ededed" stroke-width="0.6"/>
<text x="14.2" y="121.20" textLength="11.3" lengthAdjust="spacingAndGlyphs" class="n">0.00</text>
<text x="14.2" y="102.46" textLength="11.3" lengthAdjust="spacingAndGlyphs" class="n">0.20</text>
<text x="14.2" y="83.72" textLength="11.3" lengthAdjust="spacingAndGlyphs" class="n">0.40</text>
<text x="14.2" y="64.98" textLength="11.3" lengthAdjust="spacingAndGlyphs" class="n">0.60</text>
<text x="14.2" y="46.24" textLength="11.3" lengthAdjust="spacingAndGlyphs" class="n">0.80</text>
<text x="14.2" y="27.50" textLength="11.3" lengthAdjust="spacingAndGlyphs" class="n">1.00</text>
<rect x="36.20" y="25.30" width="3.6" height="93.70" fill="#7a84d4"/>
<rect x="41.05" y="25.30" width="3.6" height="93.70" fill="#a8962e"/>
<rect x="45.90" y="25.30" width="3.6" height="93.70" fill="#a2a2a2"/>
<rect x="57.75" y="33.73" width="3.6" height="85.27" fill="#7a84d4"/>
<rect x="62.60" y="33.73" width="3.6" height="85.27" fill="#a8962e"/>
<rect x="67.45" y="33.73" width="3.6" height="85.27" fill="#a2a2a2"/>
<rect x="79.30" y="36.54" width="3.6" height="82.46" fill="#7a84d4"/>
<rect x="84.15" y="100.26" width="3.6" height="18.74" fill="#a8962e"/>
<rect x="89.00" y="88.08" width="3.6" height="30.92" fill="#a2a2a2"/>
<rect x="100.85" y="32.80" width="3.6" height="86.20" fill="#7a84d4"/>
<rect x="105.70" y="37.48" width="3.6" height="81.52" fill="#a8962e"/>
<rect x="110.55" y="35.61" width="3.6" height="83.39" fill="#a2a2a2"/>
<rect x="122.40" y="67.47" width="3.6" height="51.54" fill="#7a84d4"/>
<rect x="127.25" y="32.80" width="3.6" height="86.20" fill="#a8962e"/>
<rect x="132.10" y="54.35" width="3.6" height="64.65" fill="#a2a2a2"/>
<rect x="143.95" y="59.97" width="3.6" height="59.03" fill="#7a84d4"/>
<rect x="148.80" y="39.36" width="3.6" height="79.64" fill="#a8962e"/>
<rect x="153.65" y="50.60" width="3.6" height="68.40" fill="#a2a2a2"/>
<rect x="165.50" y="37.48" width="3.6" height="81.52" fill="#7a84d4"/>
<rect x="170.35" y="54.35" width="3.6" height="64.65" fill="#a8962e"/>
<rect x="175.20" y="88.08" width="3.6" height="30.92" fill="#a2a2a2"/>
<line x1="32.0" y1="119.0" x2="182.85" y2="119.0" stroke="#d6d6d6" stroke-width="0.7"/>
<line x1="32.00" y1="119.0" x2="32.00" y2="166" stroke="#f1f1f1" stroke-width="0.6"/>
<line x1="53.55" y1="119.0" x2="53.55" y2="166" stroke="#f1f1f1" stroke-width="0.6"/>
<line x1="75.10" y1="119.0" x2="75.10" y2="166" stroke="#f1f1f1" stroke-width="0.6"/>
<line x1="96.65" y1="119.0" x2="96.65" y2="166" stroke="#f1f1f1" stroke-width="0.6"/>
<line x1="118.20" y1="119.0" x2="118.20" y2="166" stroke="#f1f1f1" stroke-width="0.6"/>
<line x1="139.75" y1="119.0" x2="139.75" y2="166" stroke="#f1f1f1" stroke-width="0.6"/>
<line x1="161.30" y1="119.0" x2="161.30" y2="166" stroke="#f1f1f1" stroke-width="0.6"/>
<line x1="182.85" y1="119.0" x2="182.85" y2="166" stroke="#f1f1f1" stroke-width="0.6"/>
<line x1="12.5" y1="130.6" x2="182.85" y2="130.6" stroke="#f1f1f1" stroke-width="0.6"/>
<line x1="12.5" y1="142.4" x2="182.85" y2="142.4" stroke="#f1f1f1" stroke-width="0.6"/>
<line x1="12.5" y1="154.2" x2="182.85" y2="154.2" stroke="#f1f1f1" stroke-width="0.6"/>
<line x1="12.5" y1="166" x2="182.85" y2="166" stroke="#f1f1f1" stroke-width="0.6"/>
<line x1="12.5" y1="130.6" x2="12.5" y2="166" stroke="#f1f1f1" stroke-width="0.6"/>
<text x="42.85" y="126.8" text-anchor="middle" class="c">Wa</text>
<text x="64.40" y="126.8" text-anchor="middle" class="c">BS</text>
<text x="85.95" y="126.8" text-anchor="middle" class="c">Ro</text>
<text x="107.50" y="126.8" text-anchor="middle" class="c">CW</text>
<text x="129.05" y="126.8" text-anchor="middle" class="c">BW</text>
<text x="150.60" y="126.8" text-anchor="middle" class="c">SW</text>
<text x="172.15" y="126.8" text-anchor="middle" class="c">PW</text>
<rect x="14" y="134.60" width="3.5" height="3.5" fill="#7a84d4"/>
<text x="19.3" y="139.00" textLength="10.3" lengthAdjust="spacingAndGlyphs" class="c">UA</text>
<text x="37.15" y="139.20" textLength="11.4" lengthAdjust="spacingAndGlyphs" class="n">1.00</text>
<text x="58.70" y="139.20" textLength="11.4" lengthAdjust="spacingAndGlyphs" class="n">0.91</text>
<text x="80.25" y="139.20" textLength="11.4" lengthAdjust="spacingAndGlyphs" class="n">0.88</text>
<text x="101.80" y="139.20" textLength="11.4" lengthAdjust="spacingAndGlyphs" class="n">0.92</text>
<text x="123.35" y="139.20" textLength="11.4" lengthAdjust="spacingAndGlyphs" class="n">0.55</text>
<text x="144.90" y="139.20" textLength="11.4" lengthAdjust="spacingAndGlyphs" class="n">0.63</text>
<text x="166.45" y="139.20" textLength="11.4" lengthAdjust="spacingAndGlyphs" class="n">0.87</text>
<rect x="14" y="146.45" width="3.5" height="3.5" fill="#a8962e"/>
<text x="19.3" y="150.85" textLength="9.6" lengthAdjust="spacingAndGlyphs" class="c">PA</text>
<text x="37.15" y="151.05" textLength="11.4" lengthAdjust="spacingAndGlyphs" class="n">1.00</text>
<text x="58.70" y="151.05" textLength="11.4" lengthAdjust="spacingAndGlyphs" class="n">0.91</text>
<text x="80.25" y="151.05" textLength="11.4" lengthAdjust="spacingAndGlyphs" class="n">0.20</text>
<text x="101.80" y="151.05" textLength="11.4" lengthAdjust="spacingAndGlyphs" class="n">0.87</text>
<text x="123.35" y="151.05" textLength="11.4" lengthAdjust="spacingAndGlyphs" class="n">0.92</text>
<text x="144.90" y="151.05" textLength="11.4" lengthAdjust="spacingAndGlyphs" class="n">0.85</text>
<text x="166.45" y="151.05" textLength="11.4" lengthAdjust="spacingAndGlyphs" class="n">0.69</text>
<rect x="14" y="158.30" width="3.5" height="3.5" fill="#a2a2a2"/>
<text x="19.3" y="162.70" textLength="5.8" lengthAdjust="spacingAndGlyphs" class="c">Fi</text>
<text x="37.15" y="162.90" textLength="11.4" lengthAdjust="spacingAndGlyphs" class="n">1.00</text>
<text x="58.70" y="162.90" textLength="11.4" lengthAdjust="spacingAndGlyphs" class="n">0.91</text>
<text x="80.25" y="162.90" textLength="11.4" lengthAdjust="spacingAndGlyphs" class="n">0.33</text>
<text x="101.80" y="162.90" textLength="11.4" lengthAdjust="spacingAndGlyphs" class="n">0.89</text>
<text x="123.35" y="162.90" textLength="11.4" lengthAdjust="spacingAndGlyphs" class="n">0.69</text>
<text x="144.90" y="162.90" textLength="11.4" lengthAdjust="spacingAndGlyphs" class="n">0.73</text>
<text x="166.45" y="162.90" textLength="11.4" lengthAdjust="spacingAndGlyphs" class="n">0.33</text>
<text x="107.42" y="175.5" text-anchor="middle" class="b">LC classes</text>
<text transform="translate(9.4,72) rotate(-90)" x="0" y="0" text-anchor="middle" class="b">Accuracy</text>
<text x="91.3" y="12.2" text-anchor="middle" class="t">A_IC accuracy</text>
</g>
<text x="238.5" y="379.70" class="l">All images composition - <tspan font-weight="bold">All_IC</tspan></text>
<text x="238.5" y="389.65" class="l">Winter images composition - <tspan font-weight="bold">W_IC</tspan></text>
<text x="238.5" y="399.60" class="l">Spring images composition - <tspan font-weight="bold">Sp_IC</tspan></text>
<text x="238.5" y="409.55" class="l">Summer images composition - <tspan font-weight="bold">Su_IC</tspan></text>
<text x="238.5" y="419.50" class="l">Autumn images composition - <tspan font-weight="bold">A_IC</tspan></text>
<text x="238.5" y="437.20" class="l">Water - <tspan font-weight="bold">Wa</tspan></text>
<text x="238.5" y="446.32" class="l">Bare soil - <tspan font-weight="bold">BS</tspan></text>
<text x="238.5" y="455.44" class="l">Roads - <tspan font-weight="bold">Ro</tspan></text>
<text x="238.5" y="464.56" class="l">Chestnut woodland - <tspan font-weight="bold">CW</tspan></text>
<text x="238.5" y="473.68" class="l">Beech woodland - <tspan font-weight="bold">BW</tspan></text>
<text x="238.5" y="482.80" class="l">Silver fir woodland - <tspan font-weight="bold">SW</tspan></text>
<text x="238.5" y="491.92" class="l">Pine woodland - <tspan font-weight="bold">PW</tspan></text>
<rect x="239.1" y="503.60" width="5.8" height="6" fill="#7a84d4"/>
<text x="249.5" y="509.10" class="l">User's accuracy - <tspan font-weight="bold">UA</tspan></text>
<rect x="239.1" y="515.40" width="5.8" height="6" fill="#a8962e"/>
<text x="249.5" y="520.90" class="l">Producer's accuracy - <tspan font-weight="bold">PA</tspan></text>
<rect x="239.1" y="527.20" width="5.8" height="6" fill="#a2a2a2"/>
<text x="249.5" y="532.70" class="l">F-score - <tspan font-weight="bold">Fi</tspan></text>
</svg>
</body></html>
